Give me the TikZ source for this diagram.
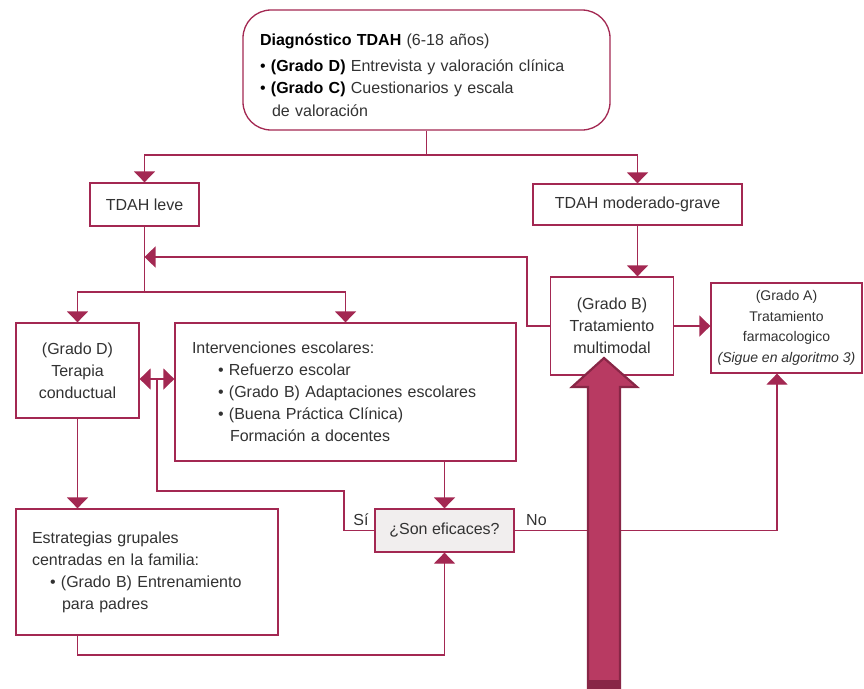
\documentclass[tikz,border=0pt]{standalone}
\usepackage{fontspec}
\setmainfont{Liberation Sans}
\usetikzlibrary{arrows.meta}
\definecolor{lineC}{RGB}{163,40,82}
\definecolor{bigC}{RGB}{184,58,98}
\definecolor{bigD}{RGB}{136,38,70}
\definecolor{txtC}{RGB}{50,50,50}
\definecolor{askC}{RGB}{241,238,238}

\begin{document}
\begin{tikzpicture}[x=1pt,y=1pt]
\tikzstyle{every node}+=[inner sep=0pt, text=txtC, font=\fontsize{16}{22}\selectfont]
\tikzstyle{box}=[draw=lineC, line width=1.3pt, fill=white, rectangle]
\tikzstyle{lnk}=[draw=lineC, line width=1.3pt]
\tikzstyle{arr}=[lnk, -{Triangle[width=21pt,length=11pt]}]
\tikzstyle{arr2}=[lnk, {Triangle[width=21pt,length=11pt]}-{Triangle[width=21pt,length=11pt]}]
\useasboundingbox (0,0) rectangle (864,-688);
% boxes
\node [box, rounded corners=28pt, minimum width=367, minimum height=120, text width=333, align=left,
       font=\fontsize{16}{22.5}\selectfont] (diag) at (426.5,-70)
 {\rule{0pt}{22pt}\textcolor{black}{\textbf{Diagnóstico TDAH}} (6-18 años)\\[3pt]
  \textcolor{black}{\textbullet\ \textbf{(Grado D)}} Entrevista y valoración clínica\\
  \textcolor{black}{\textbullet\ \textbf{(Grado C)}} Cuestionarios y escala\\
  \hspace*{0.75em}de valoración};
\node [box, minimum width=109, minimum height=43] (leve) at (144.5,-204.5) {TDAH leve};
\node [box, minimum width=209, minimum height=41] (grave) at (637.5,-204.5) {TDAH moderado-grave};
\node [box, minimum width=123, minimum height=95, align=center] (terapia) at (77.5,-370.5)
 {(Grado D)\\Terapia\\conductual};
\node [box, minimum width=341, minimum height=138, text width=307, align=left] (interv) at (345.5,-392)
 {Intervenciones escolares:\\
  \hspace*{26pt}\textbullet\ Refuerzo escolar\\
  \hspace*{26pt}\textbullet\ (Grado B) Adaptaciones escolares\\
  \hspace*{26pt}\textbullet\ (Buena Práctica Clínica)\\
  \hspace*{38pt}Formación a docentes};
\node [box, minimum width=123, minimum height=98, align=center] (multi) at (612,-326)
 {(Grado B)\\Tratamiento\\multimodal};
\node [box, minimum width=151, minimum height=90, align=center, font=\fontsize{14}{20.5}\selectfont] (gradoA) at (786.5,-328)
 {(Grado A)\\Tratamiento\\farmacologico\\\textit{(Sigue en algoritmo 3)}};
\node [box, fill=askC, minimum width=139, minimum height=43] (eficaces) at (444.5,-530.5) {¿Son eficaces?};
\node [box, minimum width=262, minimum height=126, text width=230, align=left] (estrat) at (147,-572)
 {Estrategias grupales\\
  centradas en la familia:\\
  \hspace*{18pt}\textbullet\ (Grado B) Entrenamiento\\
  \hspace*{30pt}para padres};
% connectors
\coordinate (split) at (426.5,-155);
\draw [lnk] (diag.south) -- (split);
\draw [arr] (split) -| (leve.north);
\draw [arr] (split) -| (grave.north);
\coordinate (fork) at (144.5,-292);
\draw [lnk] (leve.south) -- (fork);
\draw [arr] (fork) -| (terapia.north);
\draw [arr] (fork) -| (interv.north);
\coordinate (back) at (527,-257);
\draw [arr] (multi.west) -| (back) -- (leve.south |- back);
\draw [arr] (grave.south) -- (grave.south |- multi.north);
\draw [arr] (multi.east) -- (multi.east -| gradoA.west);
\coordinate (mid) at (157,-379);
\draw [arr2] (terapia.east |- mid) -- (interv.west |- mid);
\coordinate (si) at (344,-491);
\draw [lnk] (mid) |- (si) |- (eficaces.west);
\node [anchor=south] (silab) at (361,-526) {Sí};
\coordinate (no) at (777,-530.5);
\draw [arr] (eficaces.east) -- (no) -- (no |- gradoA.south);
\node [anchor=south west] (nolab) at (526,-526) {No};
\draw [arr] (interv.south -| eficaces.north) -- (eficaces.north);
\draw [arr] (terapia.south) -- (terapia.south |- estrat.north);
\coordinate (low) at (77.5,-655);
\draw [arr] (estrat.south -| low) -- (low) -| (eficaces.south);
% big arrow
\draw [fill=bigC, draw=bigD, line width=2.2pt, line join=miter]
 (588,-700) -- (588,-387) -- (572,-387) -- (604,-358) -- (637,-387) -- (620,-387) -- (620,-700) -- cycle;
\fill [bigD] (588,-680) rectangle (620,-690);
\end{tikzpicture}
\end{document}
